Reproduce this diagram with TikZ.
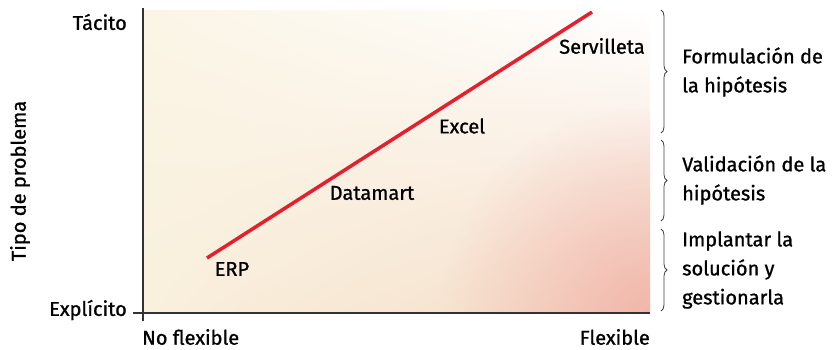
\documentclass[tikz,border=0pt]{standalone}
\usepackage{fontspec}
\setmainfont{Fira Sans}[FakeBold=1]
\usetikzlibrary{decorations.pathreplacing,shadings,fadings}
\definecolor{cream}{HTML}{FBF5E6}
\definecolor{creamlow}{HTML}{F9F0DD}
\definecolor{peach}{HTML}{F5DCC8}
\definecolor{pinkish}{HTML}{EFA29A}
\definecolor{linered}{HTML}{E5202E}
\definecolor{axisgray}{HTML}{333333}
\tikzfading[name=cornerglow, inner color=transparent!0, outer color=transparent!100]

\begin{document}
\begin{tikzpicture}[x=1pt,y=-1pt,font=\fontsize{20}{29}\selectfont]
        \tikzstyle{lbl} = [inner sep=1pt]
        \tikzstyle{side} = [anchor=west, align=left, inner sep=1pt]
        \tikzstyle{brc} = [decorate, decoration={brace, amplitude=6pt}, thick, black!75]
        \useasboundingbox (0,0) rectangle (837,349);

        % background of the plot
        \shade[upper left=cream, lower left=creamlow, upper right=white, lower right=peach] (143,10) rectangle (650,313);
        \begin{scope}
          \clip (143,10) rectangle (650,313);
          \fill[pinkish, opacity=0.65, path fading=cornerglow] (650,313) circle (210);
        \end{scope}

        % axes
        \draw[axisgray, line width=1.8pt] (143,8) -- (143,321);
        \draw[axisgray, line width=1.8pt] (133,313) -- (650,313);

        \node[lbl, anchor=east] (tacito) at (128,22) {Tácito};
        \node[lbl, anchor=east] (explicito) at (128,310) {Explícito};
        \node[lbl, rotate=90] (tipo) at (20,181) {Tipo de problema};
        \node[lbl, anchor=west] (noflex) at (141,337) {No flexible};
        \node[lbl, anchor=east] (flex) at (651,337) {Flexible};

        % the line
        \coordinate (lo) at (207,258);
        \coordinate (hi) at (592,12);
        \draw[linered, line width=3.5pt] (lo) -- (hi);
        \node[lbl] (erp) at (232,269) {ERP};
        \node[lbl] (datamart) at (372,193) {Datamart};
        \node[lbl] (excel) at (462,126) {Excel};
        \node[lbl] (servilleta) at (602,46) {Servilleta};

        % braces
        \draw[brc] (661,10) -- (661,133);
        \draw[brc] (661,140) -- (661,221);
        \draw[brc] (661,229) -- (661,311);
        \node[side] (formul) at (681,72) {Formulación de\\la hipótesis};
        \node[side] (valid) at (681,180) {Validación de la\\hipótesis};
        \node[side] (implant) at (681,270) {Implantar la\\solución y\\gestionarla};
      \end{tikzpicture}
\end{document}
